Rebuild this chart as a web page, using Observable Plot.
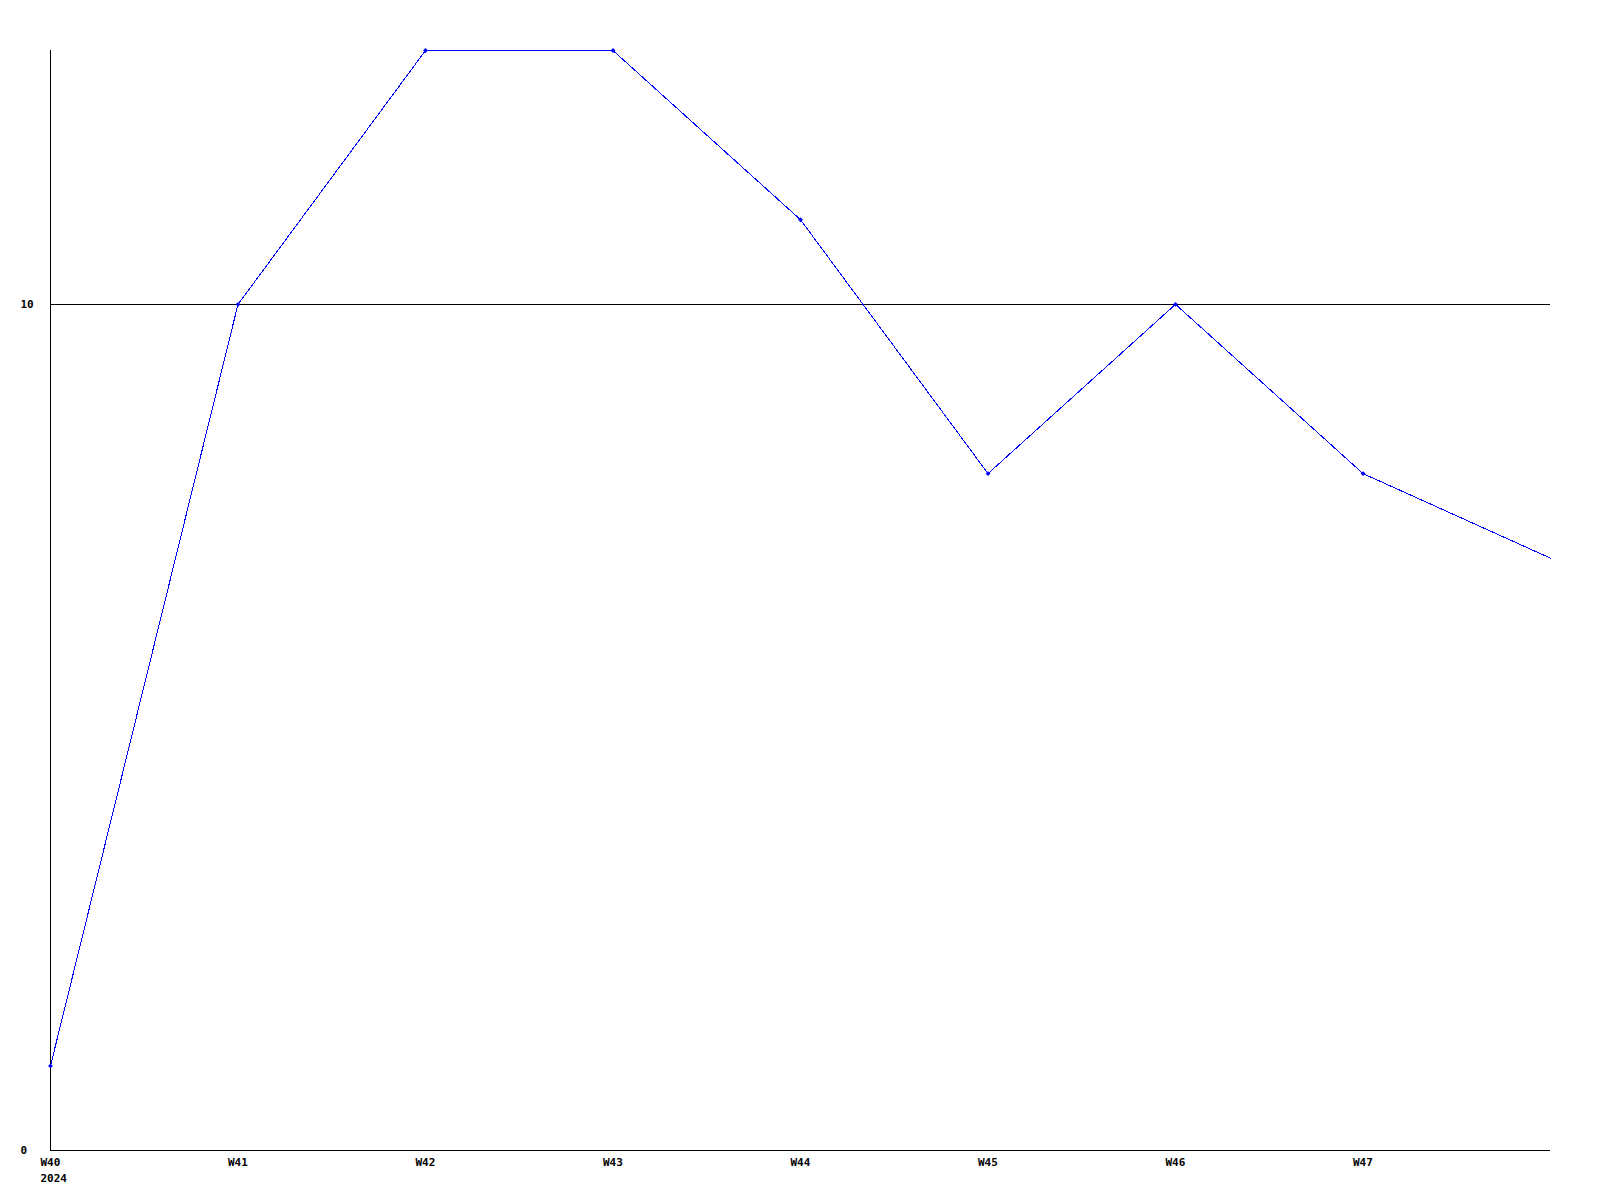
<!DOCTYPE html>
<html>
<head>
<meta charset="utf-8">
<script src="https://cdn.jsdelivr.net/npm/d3@7"></script>
<script src="https://cdn.jsdelivr.net/npm/@observablehq/plot@0.6"></script>
<style>
  html, body { margin: 0; padding: 0; background: #fff; }
  #chart svg { display: block; }
</style>
</head>
<body>
<div id="chart"></div>
<script>
const weeks = [40, 41, 42, 43, 44, 45, 46, 47, 48];
const values = [1, 10, 13, 13, 11, 8, 10, 8, 7];
const xTickWeeks = [40, 41, 42, 43, 44, 45, 46, 47];
const yTicks = [0, 10];
const yearLabel = "2024";

const data = weeks.map((w, i) => ({week: w, value: values[i]}));
const shown = data.filter(d => xTickWeeks.includes(d.week));

const chart = Plot.plot({
  width: 1600,
  height: 1200,
  marginLeft: 50,
  marginRight: 50,
  marginTop: 50,
  marginBottom: 50,
  style: {fontFamily: "'DejaVu Sans Mono', monospace", fontSize: "11px", fontWeight: "bold", color: "#000", background: "#fff"},
  x: {domain: [40, 48]},
  y: {domain: [0, 13]},
  marks: [
    Plot.ruleY([10], {stroke: "#000", strokeWidth: 1, shapeRendering: "crispEdges"}),
    Plot.ruleY([0], {stroke: "#000", strokeWidth: 1, shapeRendering: "crispEdges"}),
    Plot.ruleX([40], {stroke: "#000", strokeWidth: 1, shapeRendering: "crispEdges"}),
    Plot.axisX({
      ticks: xTickWeeks,
      tickFormat: d => d === 40 ? `W${d}\n${yearLabel}` : `W${d}`,
      tickSize: 0,
      tickPadding: 4,
      textAnchor: "start",
      dx: -10,
      lineHeight: 1.45,
      label: null,
      fill: "#000"
    }),
    Plot.axisY({
      ticks: yTicks,
      tickSize: 0,
      tickPadding: 0,
      textAnchor: "start",
      dx: -30,
      label: null,
      fill: "#000"
    }),
    Plot.line(data, {x: "week", y: "value", stroke: "#0000ff", strokeWidth: 1, shapeRendering: "crispEdges"}),
    Plot.dot(shown, {x: "week", y: "value", r: 2.2, fill: "#0000ff", stroke: "none", symbol: "diamond2"})
  ]
});
document.getElementById("chart").appendChild(chart);
</script>
</body>
</html>
